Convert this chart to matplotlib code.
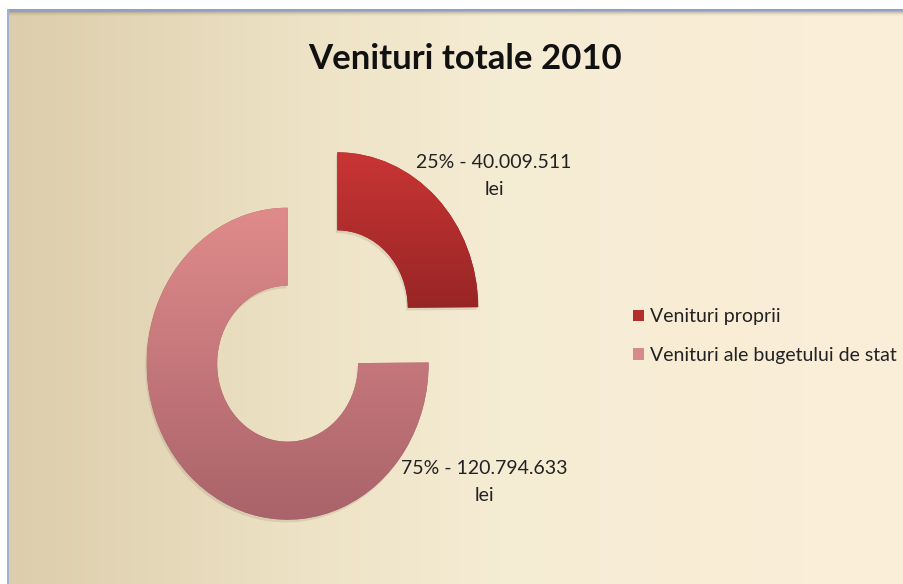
import matplotlib.pyplot as plt
import matplotlib.patheffects as pe
import numpy as np
from matplotlib.colors import LinearSegmentedColormap
from matplotlib.patches import Patch

# date
categorii = ['Venituri proprii', 'Venituri ale bugetului de stat']
valori = [40009511, 120794633]
etichete = ['25% - 40.009.511\nlei', '75% - 120.794.633\nlei']
titlu = 'Venituri totale 2010'

culori_sus = ['#c93535', '#e08b8b']
culori_jos = ['#982525', '#a9636a']
culori_legenda = ['#b52e2e', '#d68a8a']

W, H = 904, 584
fig = plt.figure(figsize=(W / 100, H / 100), dpi=100)

# fundal: gradient bej -> crem, cu chenar albastru sus/stanga
xs = np.arange(W)
ax_x = [7, 150, 300, 500, 700, 903]
r = np.interp(xs, ax_x, [220, 228, 237, 245, 249, 252])
g = np.interp(xs, ax_x, [206, 215, 226, 236, 237, 239])
b = np.interp(xs, ax_x, [172, 183, 197, 212, 214, 218])
bg = np.ones((H, W, 3))
bg[:, :, 0] = r / 255
bg[:, :, 1] = g / 255
bg[:, :, 2] = b / 255
bg = np.clip(bg, 0, 1)
# umbra sub linia de sus
for i, a in enumerate([0.45, 0.32, 0.2, 0.1, 0.05]):
    bg[11 + i, :, :] = bg[11 + i, :, :] * (1 - a) + np.array([0.45, 0.42, 0.33]) * a
bg[:9, :, :] = 1.0
bg[9:11, 7:, :] = np.array([143, 160, 200]) / 255
bg[:, :7, :] = 1.0
bg[9:, 7:9, :] = np.array([160, 175, 210]) / 255

ax_bg = fig.add_axes([0, 0, 1, 1], zorder=-1)
ax_bg.imshow(bg, aspect='auto', interpolation='bilinear')
ax_bg.axis('off')

# gogoasa
ax = fig.add_axes([0.1429, 0.0774, 0.4055, 0.6945])
wedges, _ = ax.pie(valori, startangle=90, counterclock=False, radius=1.0,
                   explode=[0.25, 0.25],
                   wedgeprops=dict(width=0.5, linewidth=0))

for w, c1, c2 in zip(wedges, culori_sus, culori_jos):
    w.set_facecolor(c2)
    w.set_path_effects([pe.SimplePatchShadow(offset=(-1, -2), shadow_rgbFace='#7a6a50',
                                             alpha=0.16), pe.Normal()])
    x0, y0, x1, y1 = w.get_path().get_extents().extents
    cmap = LinearSegmentedColormap.from_list('g', [c1, c2])
    grad = np.linspace(0, 1, 256).reshape(-1, 1)
    im = ax.imshow(grad, extent=[x0, x1, y0, y1], origin='upper', cmap=cmap,
                   aspect='auto', interpolation='bilinear', zorder=2)
    im.set_clip_path(w)
ax.set_aspect('auto')
ax.set_xlim(-1.3, 1.3)
ax.set_ylim(-1.3, 1.3)
ax.axis('off')

font = 'Lato'
fig.text(465 / W, 1 - 59 / H, titlu, ha='center', va='center',
         fontsize=25, fontweight='bold', family=font, color='#111111')

fig.text(494 / W, 1 - 176 / H, etichete[0], ha='center', va='center',
         fontsize=14, family=font, color='#222222', linespacing=1.7)
fig.text(484 / W, 1 - 482 / H, etichete[1], ha='center', va='center',
         fontsize=14, family=font, color='#222222', linespacing=1.7)

handles = [Patch(facecolor=c, edgecolor='none') for c in culori_legenda]
fig.legend(handles, categorii, loc='center left',
           bbox_to_anchor=(633 / W, 1 - 336 / H), frameon=False,
           prop=dict(family=font, size=14), handlelength=0.55, handleheight=0.55,
           handletextpad=0.3, labelspacing=1.1, borderpad=0, borderaxespad=0,
           labelcolor='#222222')

plt.savefig('out.png', dpi=100)
